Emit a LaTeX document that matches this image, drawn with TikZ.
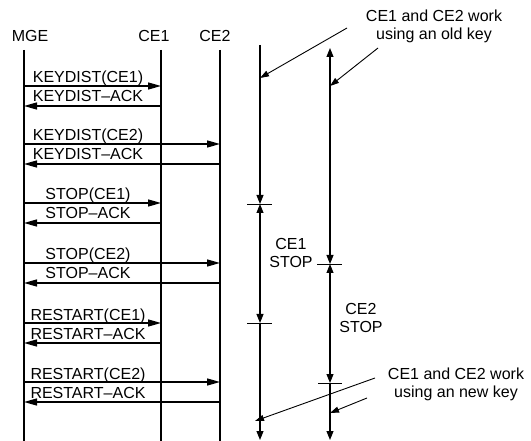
\documentclass[tikz,border=0pt]{standalone}
\usepackage{fontspec}
\setmainfont{Liberation Sans}
\usetikzlibrary{arrows.meta}

\begin{document}
\begin{tikzpicture}[x=1pt, y=-1pt, font=\fontsize{16}{18}\selectfont]
  \tikzstyle{hd}=[anchor=base, inner sep=0pt]
  \tikzstyle{lbl}=[anchor=base, inner sep=0pt]
  \tikzstyle{note}=[anchor=north, align=center, inner sep=0pt]
  \tikzstyle{life}=[line width=1.1pt]
  \tikzstyle{msg}=[-{Triangle[length=13pt,width=7pt]}, line width=1.3pt]
  \tikzstyle{dn}=[-{Triangle[length=9pt,width=7pt]}, line width=1.1pt]
  \tikzstyle{both}=[{Triangle[length=9pt,width=7pt]}-{Triangle[length=9pt,width=7pt]}, line width=1.1pt]
  \tikzstyle{tk}=[line width=0.9pt]
  \tikzstyle{ptr}=[-{Triangle[length=9pt,width=6pt]}, line width=0.9pt]
  \useasboundingbox (0,0) rectangle (531,441);
  \node[hd](h0) at (30,42){MGE};
  \node[hd](h1) at (154,42){CE1};
  \node[hd](h2) at (215,42){CE2};
  \coordinate (mge) at (24,50);  \coordinate (mgeb) at (24,441);
  \coordinate (ce1) at (161,50); \coordinate (ce1b) at (161,441);
  \coordinate (ce2) at (220,50); \coordinate (ce2b) at (220,441);
  \draw[life](mge)--(mgeb); \draw[life](ce1)--(ce1b); \draw[life](ce2)--(ce2b);
  \foreach \y/\t/\m/\a in {86/ce1/KEYDIST(CE1)/KEYDIST--ACK, 144/ce2/KEYDIST(CE2)/KEYDIST--ACK,
                           203/ce1/STOP(CE1)/STOP--ACK, 263/ce2/STOP(CE2)/STOP--ACK,
                           323/ce1/RESTART(CE1)/RESTART--ACK, 382/ce2/RESTART(CE2)/RESTART--ACK}{
    \draw[msg](mge|-0,\y)--(\t|-0,\y);
    \draw[msg](\t|-0,{\y+20})--(mge|-0,{\y+20});
    \node[lbl](m\y) at (88,{\y-3}){\m};
    \node[lbl](k\y) at (88,{\y+16}){\a};
  }
  \coordinate (a0) at (260,45);  \coordinate (a1) at (260,204);
  \coordinate (a2) at (260,323); \coordinate (a3) at (260,440);
  \coordinate (b0) at (330,48);  \coordinate (b1) at (330,264);
  \coordinate (b2) at (330,383); \coordinate (b3) at (330,440);
  \draw[dn](a0)--(a1); \draw[both](a1)--(a2); \draw[dn](a2)--(a3);
  \draw[both](b0)--(b1); \draw[both](b1)--(b2); \draw[dn](b2)--(b3);
  \draw[tk](a1)++(-13,0)--++(25,0);
  \draw[tk](a2)++(-13,0)--++(25,0);
  \draw[tk](b1)++(-13,0)--++(25,0);
  \draw[tk](b2)++(-12,0)--++(24,0);
  \node[note](old) at (434,10){CE1 and CE2 work\\using an old key};
  \node[note](new) at (456,368){CE1 and CE2 work\\using an new key};
  \node[note](s1) at (291,238){CE1\\STOP};
  \node[note](s2) at (361,303){CE2\\STOP};
  \coordinate (o1) at (347,28); \coordinate (o2) at (378,48);
  \coordinate (w1) at (375,378); \coordinate (w2) at (367,398);
  \draw[ptr](o1)--(a0|-0,78);
  \draw[ptr](o2)--(b0|-0,86);
  \draw[ptr](w1)--(255,421);
  \draw[ptr](w2)--(b0|-0,413);
\end{tikzpicture}
\end{document}
